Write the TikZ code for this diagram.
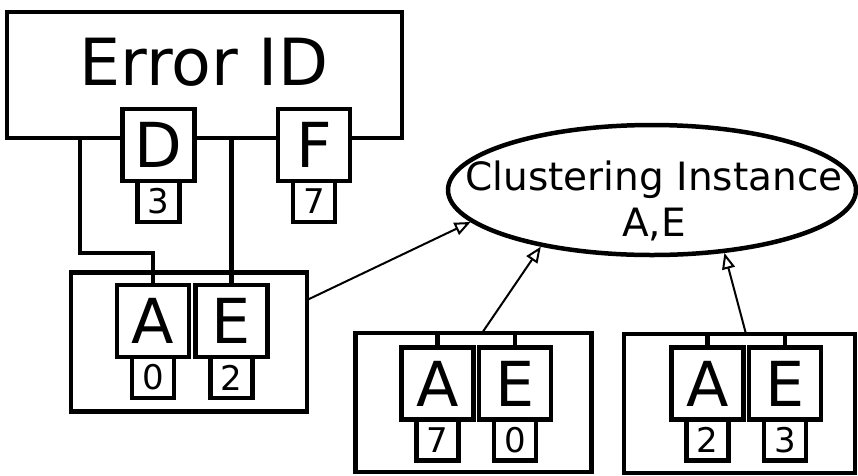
\documentclass[tikz,border=0pt]{standalone}
\usepackage{fontspec}
\setmainfont{DejaVu Sans}
\usetikzlibrary{shapes.geometric, arrows.meta, positioning}

\begin{document}
\begin{tikzpicture}[x=1pt, y=-1pt, line width=4.5pt,
  keybox/.style={draw, fill=white, minimum width=72pt, minimum height=72pt,
                 inner sep=0pt, outer sep=0pt, font=\fontsize{62}{62}\selectfont},
  countbox/.style={draw, fill=white, minimum width=42pt, minimum height=41pt,
                   inner sep=0pt, outer sep=0pt, font=\fontsize{34}{34}\selectfont},
  groupbox/.style={draw, minimum width=236pt, minimum height=139pt,
                   inner sep=0pt, outer sep=0pt},
  link/.style={line width=2pt, -{Triangle[open, length=16pt, width=13pt]}}]

\useasboundingbox (0,0) rectangle (858,475);

% ---- Error ID -----------------------------------------------------------
\node[draw, minimum width=395pt, minimum height=126pt, inner sep=0pt, outer sep=0pt]
      (errbox) at (204.5,75) {};
\node[font=\fontsize{65}{65}\selectfont] (errlabel) at (204,62) {Error ID};

% ---- First group (linked to Error ID) -----------------------------------
\node[groupbox] (grpA) at (189,342) {};
\node[keybox] (keyAA) at (153,321) {A};
\node[keybox] (keyAE) at (231.5,321) {E};
\node[countbox, below=0pt of keyAA] (cntAA) {0};
\node[countbox, below=0pt of keyAE] (cntAE) {2};

% lines from the Error ID box
\draw (keyAA.north) -- ++(0,-32) -| ([xshift=73pt]errbox.south west);
\draw (keyAE.north) -- (keyAE.north |- errbox.south);

\node[keybox] (keyD) at (158.5,145) {D};
\node[keybox] (keyF) at (314,145) {F};
\node[countbox, below=0pt of keyD] (cntD) {3};
\node[countbox, below=0pt of keyF] (cntF) {7};

% ---- Other groups -------------------------------------------------------
\node[groupbox] (grpB) at (473.5,402.5) {};
\node[keybox] (keyBA) at (437.5,383.5) {A};
\node[keybox] (keyBE) at (515,383.5) {E};
\node[countbox, below=0pt of keyBA] (cntBA) {7};
\node[countbox, below=0pt of keyBE] (cntBE) {0};
\draw (keyBA.north) -- (keyBA.north |- grpB.north);
\draw (keyBE.north) -- (keyBE.north |- grpB.north);

\node[groupbox, minimum width=231pt] (grpC) at (739.5,403.5) {};
\node[keybox] (keyCA) at (707.5,383.5) {A};
\node[keybox] (keyCE) at (785,383.5) {E};
\node[countbox, below=0pt of keyCA] (cntCA) {2};
\node[countbox, below=0pt of keyCE] (cntCE) {3};
\draw (keyCA.north) -- (keyCA.north |- grpC.north);
\draw (keyCE.north) -- (keyCE.north |- grpC.north);

% ---- Clustering instance ------------------------------------------------
\node[draw, ellipse, minimum width=408pt, minimum height=130pt, inner sep=0pt]
      (clust) at (652,190) {};
\node[align=center, font=\fontsize{39}{46}\selectfont] (clustlabel) at (654,201)
      {Clustering Instance\\A,E};

\draw[link] ([yshift=42pt]grpA.east) -- (clust.190);
\draw[link] ([xshift=8.5pt]grpB.north) -- (clust.207);
\draw[link] ([xshift=6.5pt]grpC.north) -- (clust.319);

\end{tikzpicture}
\end{document}
